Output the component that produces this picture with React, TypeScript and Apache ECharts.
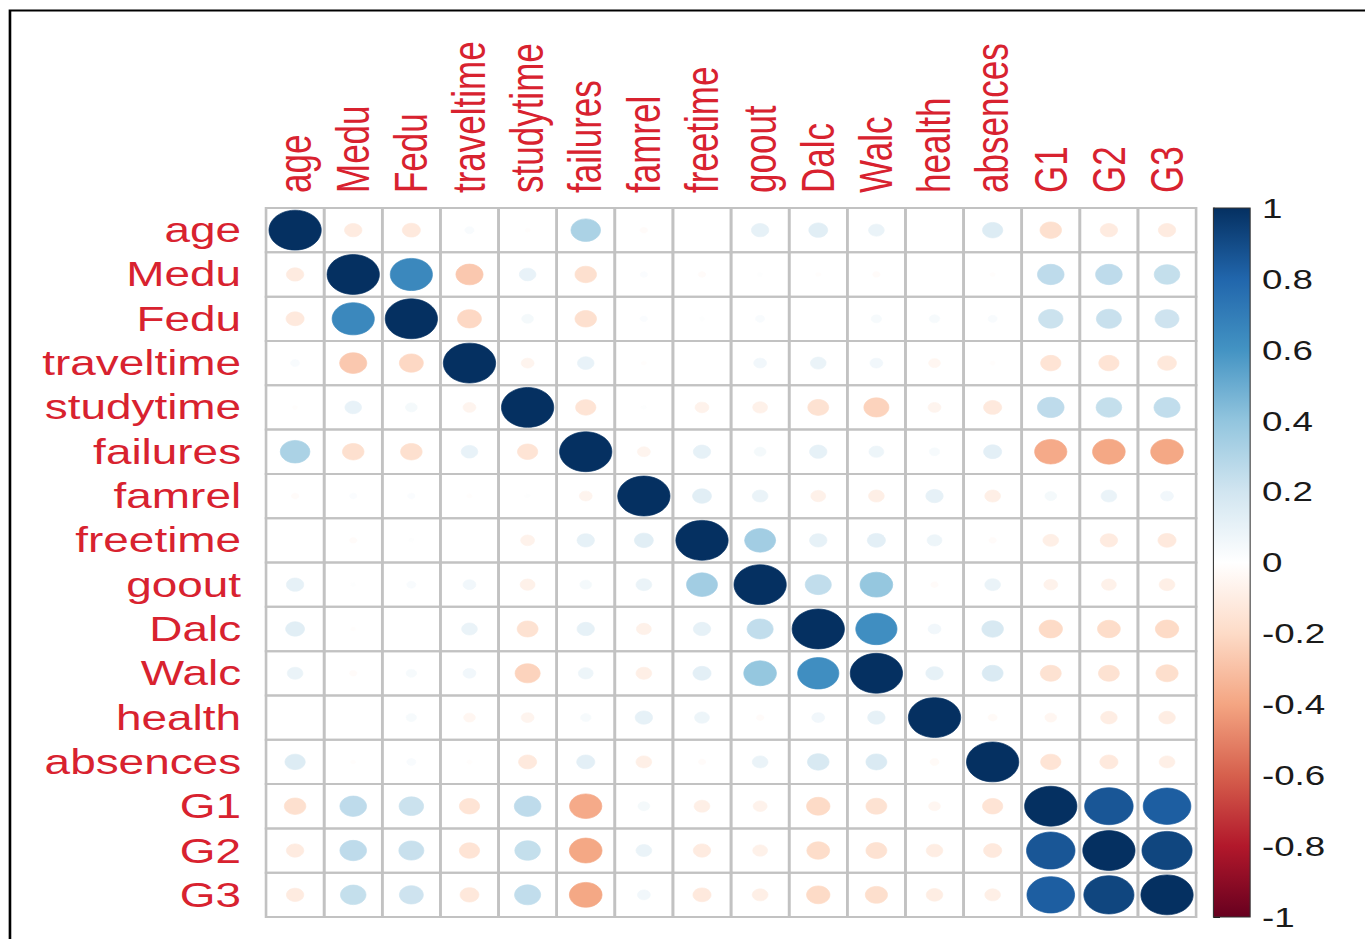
import React, { useEffect, useRef } from "react";
import * as echarts from "echarts";

// Variables of the correlation matrix (student performance data)
const variables = [
  "age", "Medu", "Fedu", "traveltime", "studytime", "failures", "famrel", "freetime",
  "goout", "Dalc", "Walc", "health", "absences", "G1", "G2", "G3",
];

// Correlation rows (same column order as `variables`)
const corrAge = [1.0, -0.11, -0.12, 0.03, -0.01, 0.32, -0.02, 0.0, 0.11, 0.13, 0.09, 0.0, 0.15, -0.17, -0.11, -0.11];
const corrMedu = [-0.11, 1.0, 0.65, -0.27, 0.1, -0.17, 0.02, -0.02, 0.01, -0.01, -0.02, 0.0, -0.01, 0.26, 0.26, 0.24];
const corrFedu = [-0.12, 0.65, 1.0, -0.21, 0.05, -0.17, 0.02, 0.01, 0.03, 0.0, 0.04, 0.04, 0.03, 0.22, 0.23, 0.21];
const corrTraveltime = [0.03, -0.27, -0.21, 1.0, -0.06, 0.1, -0.01, 0.0, 0.06, 0.09, 0.06, -0.05, -0.01, -0.15, -0.15, -0.13];
const corrStudytime = [-0.01, 0.1, 0.05, -0.06, 1.0, -0.15, 0.01, -0.07, -0.08, -0.16, -0.23, -0.06, -0.12, 0.26, 0.24, 0.25];
const corrFailures = [0.32, -0.17, -0.17, 0.1, -0.15, 1.0, -0.06, 0.11, 0.05, 0.11, 0.08, 0.04, 0.12, -0.38, -0.39, -0.39];
const corrFamrel = [-0.02, 0.02, 0.02, -0.01, 0.01, -0.06, 1.0, 0.13, 0.09, -0.08, -0.09, 0.11, -0.09, 0.05, 0.09, 0.06];
const corrFreetime = [0.0, -0.02, 0.01, 0.0, -0.07, 0.11, 0.13, 1.0, 0.35, 0.11, 0.12, 0.08, -0.02, -0.09, -0.11, -0.12];
const corrGoout = [0.11, 0.01, 0.03, 0.06, -0.08, 0.05, 0.09, 0.35, 1.0, 0.25, 0.39, -0.02, 0.09, -0.07, -0.08, -0.09];
const corrDalc = [0.13, -0.01, 0.0, 0.09, -0.16, 0.11, -0.08, 0.11, 0.25, 1.0, 0.62, 0.06, 0.17, -0.2, -0.19, -0.2];
const corrWalc = [0.09, -0.02, 0.04, 0.06, -0.23, 0.08, -0.09, 0.12, 0.39, 0.62, 1.0, 0.11, 0.16, -0.16, -0.16, -0.18];
const corrHealth = [0.0, 0.0, 0.04, -0.05, -0.06, 0.04, 0.11, 0.08, -0.02, 0.06, 0.11, 1.0, -0.03, -0.05, -0.1, -0.1];
const corrAbsences = [0.15, -0.01, 0.03, -0.01, -0.12, 0.12, -0.09, -0.02, 0.09, 0.17, 0.16, -0.03, 1.0, -0.15, -0.12, -0.09];
const corrG1 = [-0.17, 0.26, 0.22, -0.15, 0.26, -0.38, 0.05, -0.09, -0.07, -0.2, -0.16, -0.05, -0.15, 1.0, 0.86, 0.83];
const corrG2 = [-0.11, 0.26, 0.23, -0.15, 0.24, -0.39, 0.09, -0.11, -0.08, -0.19, -0.16, -0.1, -0.12, 0.86, 1.0, 0.92];
const corrG3 = [-0.11, 0.24, 0.21, -0.13, 0.25, -0.39, 0.06, -0.12, -0.09, -0.2, -0.18, -0.1, -0.09, 0.83, 0.92, 1.0];

const corrRows = [
  corrAge, corrMedu, corrFedu, corrTraveltime, corrStudytime, corrFailures, corrFamrel, corrFreetime,
  corrGoout, corrDalc, corrWalc, corrHealth, corrAbsences, corrG1, corrG2, corrG3,
];

// Colour scale range and ticks of the legend bar
const scaleMin = -1;
const scaleMax = 1;
const scaleStep = 0.2;

// RdBu palette (from -1 to 1)
const paletteRdBu = [
  "#67001F", "#B2182B", "#D6604D", "#F4A582", "#FDDBC7", "#FFFFFF",
  "#D1E5F0", "#92C5DE", "#4393C3", "#2166AC", "#053061",
];

const STRETCH = 1.3118; // the reference is stretched horizontally
const LABEL_RED = "#d8222f";
const GRID_GREY = "#c2c2c2";
const FONT = "'Liberation Sans', Arial, Helvetica, sans-serif";

function hexToRgb(h: string): number[] {
  const s = h.replace("#", "");
  return [0, 2, 4].map((i) => parseInt(s.slice(i, i + 2), 16));
}

function corrColor(v: number): string {
  const n = paletteRdBu.length;
  const t = ((v - scaleMin) / (scaleMax - scaleMin)) * (n - 1);
  const i = Math.max(0, Math.min(n - 2, Math.floor(t)));
  const f = t - i;
  const a = hexToRgb(paletteRdBu[i]);
  const b = hexToRgb(paletteRdBu[i + 1]);
  const c = a.map((x, k) => Math.round(x + (b[k] - x) * f));
  return `rgb(${c[0]},${c[1]},${c[2]})`;
}

export default function App() {
  const ref = useRef<HTMLDivElement>(null);

  useEffect(() => {
    if (!ref.current) return;
    const chart = echarts.init(ref.current, null, { renderer: "svg" });

    const cells: number[][] = [];
    corrRows.forEach((row, i) => {
      row.forEach((v, j) => cells.push([j, i, v]));
    });

    const gradientStops = paletteRdBu
      .slice()
      .reverse()
      .map((c, k) => ({ offset: k / (paletteRdBu.length - 1), color: c }));

    const option: any = {
      animation: false,
      backgroundColor: "#ffffff",
      textStyle: { fontFamily: FONT },
      graphic: [
        {
          type: "rect",
          silent: true,
          z: -10,
          shape: { x: 7.6, y: 10.5, width: 1400, height: 1400 },
          style: { fill: "none", stroke: "#000000", lineWidth: 2 },
        },
      ],
      grid: [
        { left: 202.8, top: 208, width: 709, height: 709 },
        { left: 925, top: 208, width: 28, height: 709 },
      ],
      xAxis: [
        {
          type: "category",
          gridIndex: 0,
          data: variables,
          position: "top",
          axisLine: { show: false },
          axisTick: { show: false },
          splitLine: { show: false },
          axisLabel: {
            interval: 0,
            rotate: -90,
            margin: 15,
            color: LABEL_RED,
            fontSize: 35,
            fontFamily: FONT,
          },
        },
        { type: "value", gridIndex: 1, min: 0, max: 1, show: false },
      ],
      yAxis: [
        {
          type: "category",
          gridIndex: 0,
          data: variables,
          inverse: true,
          axisLine: { show: false },
          axisTick: { show: false },
          splitLine: { show: false },
          axisLabel: {
            interval: 0,
            margin: 19,
            color: LABEL_RED,
            fontSize: 35,
            fontFamily: FONT,
          },
        },
        {
          type: "value",
          gridIndex: 1,
          position: "right",
          min: scaleMin,
          max: scaleMax,
          interval: scaleStep,
          axisLine: { show: true, lineStyle: { color: "#111111", width: 1 } },
          axisTick: { show: true, length: 5, lineStyle: { color: "#111111", width: 1 } },
          splitLine: { show: false },
          axisLabel: { margin: 9, fontSize: 28, color: "#1a1a1a", fontFamily: FONT },
        },
      ],
      series: [
        {
          type: "custom",
          xAxisIndex: 0,
          yAxisIndex: 0,
          data: cells,
          renderItem: (params: any, api: any) => {
            const x = api.value(0);
            const y = api.value(1);
            const v = api.value(2);
            const c = api.coord([x, y]);
            const size = api.size([1, 1]);
            const w = size[0];
            const h = size[1];
            const r = 0.45 * Math.sqrt(Math.abs(v)) * Math.min(w, h);
            const col = corrColor(v);
            return {
              type: "group",
              children: [
                {
                  type: "rect",
                  shape: { x: c[0] - w / 2, y: c[1] - h / 2, width: w, height: h },
                  style: { fill: "none", stroke: GRID_GREY, lineWidth: 2 },
                },
                {
                  type: "circle",
                  shape: { cx: c[0], cy: c[1], r },
                  style: { fill: col, stroke: col, lineWidth: 0.6 },
                },
              ],
            };
          },
        },
        {
          type: "custom",
          xAxisIndex: 1,
          yAxisIndex: 1,
          data: [[0.5, 0]],
          renderItem: (params: any) => {
            const cs = params.coordSys;
            return {
              type: "rect",
              shape: { x: cs.x, y: cs.y, width: cs.width, height: cs.height },
              style: {
                fill: new echarts.graphic.LinearGradient(0, 0, 0, 1, gradientStops),
                stroke: "#333333",
                lineWidth: 0.8,
              },
            };
          },
        },
      ],
    };

    chart.setOption(option);
    return () => chart.dispose();
  }, []);

  return (
    <div
      ref={ref}
      style={{
        position: "absolute",
        left: 0,
        top: 0,
        width: "1041px",
        height: "939px",
        transform: `scaleX(${STRETCH})`,
        transformOrigin: "0 0",
        background: "#ffffff",
      }}
    />
  );
}
